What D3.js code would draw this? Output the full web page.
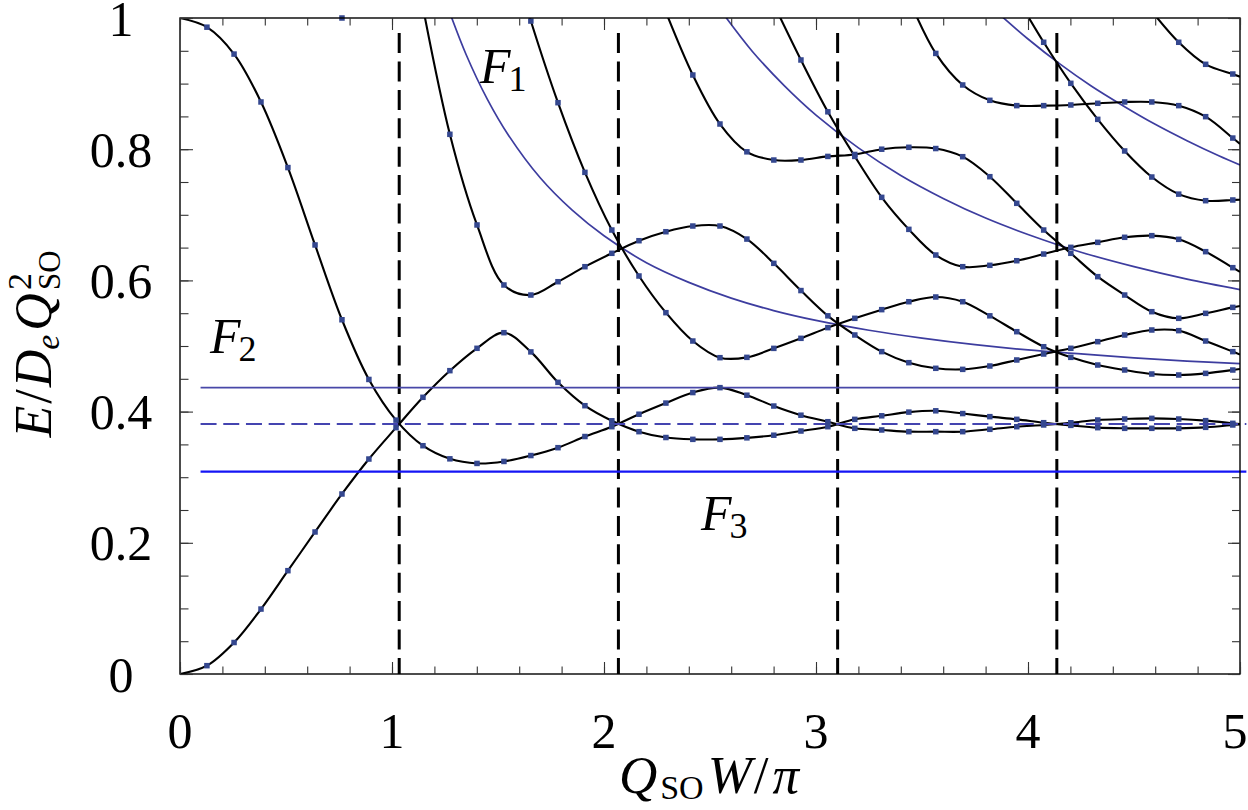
<!DOCTYPE html>
<html><head><meta charset="utf-8">
<script src="https://cdn.jsdelivr.net/npm/d3@7"></script>
<style>
body{margin:0;background:#fff}
svg{display:block}
text{font-family:"Liberation Serif","Times New Roman",serif;fill:#000}
</style>
</head><body>
<svg id="c" width="1248" height="810" font-family="Liberation Serif, serif"></svg>
<script>
// ---- data ----
const xGrid = [0.127,0.255,0.382,0.509,0.637,0.764,0.891,1.019,1.146,1.273,1.401,1.528,1.655,1.783,1.910,2.037,2.165,2.292,2.419,2.547,2.674,2.801,2.929,3.056,3.183,3.310,3.438,3.565,3.692,3.820,3.947,4.074,4.202,4.329,4.456,4.584,4.711,4.838,4.966];
const N = null;
const bandA = [0.986,0.945,0.872,0.772,0.654,0.540,0.449,0.387,0.348,0.328,0.321,0.324,0.333,0.345,0.362,0.377,0.396,0.413,0.429,0.4365,0.425,0.4085,0.3945,0.3846,0.3745,0.372,0.3694,0.3694,0.3694,0.373,0.377,0.3796,0.383,0.3872,0.3887,0.3897,0.3887,0.3862,0.3821];
const bandB = [0.0127,0.048,0.099,0.1575,0.2165,0.2744,0.3277,0.3755,0.4218,0.4624,0.4965,0.5203,0.491,0.4446,0.409,0.386,0.3694,0.3605,0.3577,0.3577,0.36,0.364,0.3704,0.377,0.3882,0.3936,0.3992,0.4012,0.397,0.3923,0.3882,0.3831,0.379,0.3755,0.3745,0.3745,0.3745,0.376,0.3796];
const bandC = [N,N,N,N,N,N,N,N,N,0.8227,0.6845,0.593,0.5777,0.598,0.6209,0.6413,0.6605,0.6742,0.6829,0.6829,0.663,0.626,0.5845,0.546,0.5168,0.4914,0.4746,0.466,0.4644,0.4695,0.4787,0.4878,0.4965,0.5066,0.5168,0.5244,0.5234,0.5076,0.4914];
const bandD = [N,N,N,N,N,N,N,N,N,N,N,N,0.9954,0.8709,0.7647,0.6768,0.6067,0.5508,0.5076,0.4822,0.4827,0.4964,0.5117,0.528,0.5422,0.5554,0.5675,0.5747,0.5675,0.546,0.5218,0.4989,0.4827,0.471,0.4634,0.4573,0.4558,0.4583,0.4634];
const bandE = [N,N,N,N,N,N,N,N,N,N,N,N,N,N,N,N,N,N,0.9131,0.8384,0.796,0.7835,0.7835,0.789,0.792,0.8,0.8029,0.801,0.7886,0.7581,0.7175,0.6768,0.6413,0.6057,0.5777,0.5523,0.5422,0.5498,0.5589];
const bandF = [N,N,N,N,N,N,N,N,N,N,N,N,N,N,N,N,N,N,N,N,N,N,0.936,0.857,0.789,0.7266,0.6778,0.6387,0.6209,0.623,0.63,0.6402,0.6504,0.658,0.6657,0.6682,0.6626,0.6438,0.6194];
const bandG = [N,N,N,N,N,N,N,N,N,N,N,N,N,N,N,N,N,N,N,N,N,N,N,N,N,N,N,0.946,0.8979,0.8745,0.8664,0.8664,0.8674,0.87,0.872,0.872,0.8664,0.8496,0.817];
const bandH = [N,N,N,N,N,N,N,N,N,N,N,N,N,N,N,N,N,N,N,N,N,N,N,N,N,N,N,N,N,N,N,0.963,0.9004,0.8455,0.7973,0.7576,0.7315,0.7215,0.7226];
const bandI = [N,N,N,N,N,N,N,N,N,N,N,N,N,N,N,N,N,N,N,N,N,N,N,N,N,N,N,N,N,N,N,N,N,N,N,N,0.963,0.9294,0.9146];
// where each black line leaves the frame (line only, no marker)
const bandAEnds = [[0,1.0],[5.0,0.381]];
const bandBEnds = [[0,0],[5.0,0.3806]];
const bandCEnds = [[1.12,1.06],[5.0,0.487]];
const bandDEnds = [[1.60,1.055],[5.0,0.465]];
const bandEEnds = [[2.26,1.035],[5.0,0.561]];
const bandFEnds = [[2.78,1.035],[5.0,0.613]];
const bandGEnds = [[3.43,1.035],[5.0,0.808]];
const bandHEnds = [[3.95,1.03],[5.0,0.723]];
const bandIEnds = [[4.56,1.02],[5.0,0.9106]];
const loneMarkers = [[0.764,1.0]];
// F1 curves (blue)
const f1a = [[1.25,1.028],[1.35,0.944],[1.45,0.876],[1.55,0.821],[1.7,0.756],[1.85,0.707],[2.0,0.668],[2.2,0.627],[2.4,0.597],[2.6,0.573],[2.8,0.554],[3.0,0.539],[3.25,0.524],[3.5,0.512],[3.75,0.502],[4.0,0.494],[4.25,0.488],[4.5,0.482],[4.75,0.477],[5.0,0.473]];
const f1b = [[2.55,1.012],[2.7,0.949],[2.85,0.897],[3.0,0.852],[3.2,0.802],[3.4,0.760],[3.6,0.725],[3.8,0.695],[4.0,0.670],[4.25,0.643],[4.5,0.621],[4.75,0.602],[5.0,0.586]];
const f1c = [[3.85,1.010],[4.0,0.968],[4.15,0.930],[4.3,0.896],[4.45,0.866],[4.6,0.838],[4.75,0.813],[4.9,0.790],[5.0,0.776]];
const f2Level = 0.4365;
const f3Level = 0.3084;
const midLevel = 0.381;
const levelStart = 0.097;
const crossX = [1.034, 2.068, 3.102, 4.136];
const crossTop = 0.977;
const xTicksMajor = [0,1,2,3,4,5];
const xTickLabels = ["0","1","2","3","4","5"];
const yTicksMajor = [0,0.2,0.4,0.6,0.8,1];
const yTickLabels = ["0","0.2","0.4","0.6","0.8","1"];
const xTicksMinor = d3.range(0, 5.001, 0.2);
const yTicksMinor = d3.range(0, 1.001, 0.05);

// ---- drawing ----
const FONT = "Liberation Serif, serif";
const svg = d3.select("#c");
const x = d3.scaleLinear().domain([0,5]).range([180,1240]);
const y = d3.scaleLinear().domain([0,1]).range([674,18]);

svg.append("defs").append("clipPath").attr("id","clip")
  .append("rect").attr("x",180).attr("y",18).attr("width",1060).attr("height",656);

const plot = svg.append("g");
const clipped = plot.append("g").attr("clip-path","url(#clip)");

// vertical dashed lines
plot.selectAll(".vd").data(crossX).join("line")
  .attr("x1", d=>x(d)).attr("x2", d=>x(d))
  .attr("y1", y(crossTop)).attr("y2", y(0))
  .attr("stroke","#000").attr("stroke-width",3).attr("stroke-dasharray","20,8.4");

// horizontal levels
plot.append("line").attr("x1",x(levelStart)).attr("x2",x(5.03)).attr("y1",y(f3Level)).attr("y2",y(f3Level))
  .attr("stroke","#1414f5").attr("stroke-width",2.2);
plot.append("line").attr("x1",x(levelStart)).attr("x2",x(5)).attr("y1",y(f2Level)).attr("y2",y(f2Level))
  .attr("stroke","#4848a8").attr("stroke-width",1.6);
plot.append("line").attr("x1",x(levelStart)).attr("x2",x(5.03)).attr("y1",y(midLevel)).attr("y2",y(midLevel))
  .attr("stroke","#4444b0").attr("stroke-width",2).attr("stroke-dasharray","16,6.7");

const line = d3.line().x(d=>x(d[0])).y(d=>y(d[1])).curve(d3.curveCatmullRom.alpha(0.5));

// blue F1 curves
clipped.selectAll(".f1").data([f1a,f1b,f1c]).join("path")
  .attr("d", line).attr("fill","none").attr("stroke","#3d3d9f").attr("stroke-width",1.7);

// black bands
const bands = [[bandA,bandAEnds],[bandB,bandBEnds],[bandC,bandCEnds],[bandD,bandDEnds],[bandE,bandEEnds],[bandF,bandFEnds],[bandG,bandGEnds],[bandH,bandHEnds],[bandI,bandIEnds]];
const bandPts = bands.map(([b]) => xGrid.map((xv,i)=>[xv,b[i]]).filter(d=>d[1]!==null));
clipped.selectAll(".band").data(bands.map(([b,e],i)=>[e[0],...bandPts[i],e[1]])).join("path")
  .attr("d", line).attr("fill","none").attr("stroke","#000").attr("stroke-width",2.1);

// markers
const markers = bandPts.flat().filter(d=>d[1]<=1.0).concat(loneMarkers);
plot.selectAll(".mk").data(markers).join("rect")
  .attr("x", d=>x(d[0])-2.75).attr("y", d=>y(d[1])-2.75).attr("width",5.5).attr("height",5.5)
  .attr("fill","#34478f");

// frame
svg.append("rect").attr("x",180).attr("y",18).attr("width",1060).attr("height",656)
  .attr("fill","none").attr("stroke","#000").attr("stroke-width",1.4);

// ticks
function tickAxis(axis, tf, vals, size){
  const g = svg.append("g").attr("transform",tf).call(axis.tickValues(vals).tickSize(size).tickFormat(""));
  g.select(".domain").remove();
  g.selectAll("line").attr("stroke","#333").attr("stroke-width",1.1);
  return g;
}
tickAxis(d3.axisBottom(x), `translate(0,${y(0)})`, xTicksMinor, -7.5);
tickAxis(d3.axisBottom(x), `translate(0,${y(0)})`, xTicksMajor, -12);
tickAxis(d3.axisTop(x), `translate(0,${y(1)})`, xTicksMinor, -7.5);
tickAxis(d3.axisTop(x), `translate(0,${y(1)})`, xTicksMajor, -12);
tickAxis(d3.axisLeft(y), `translate(${x(0)},0)`, yTicksMinor, -8.5);
tickAxis(d3.axisLeft(y), `translate(${x(0)},0)`, yTicksMajor, -13);
tickAxis(d3.axisRight(y), `translate(${x(5)},0)`, yTicksMinor, -8);
tickAxis(d3.axisRight(y), `translate(${x(5)},0)`, yTicksMajor, -12);

// tick labels
svg.append("g").selectAll("text").data(xTicksMajor).join("text")
  .attr("x", d=> d===5 ? x(d)-5 : x(d)).attr("y", 748).attr("text-anchor","middle")
  .attr("font-family",FONT).attr("font-size",50)
  .text((d,i)=>xTickLabels[i]);
svg.append("g").selectAll("text").data(yTicksMajor).join("text")
  .attr("x", 121).attr("y", d=>y(d)+17.5).attr("text-anchor","middle")
  .attr("font-family",FONT).attr("font-size",50)
  .text((d,i)=>yTickLabels[i]);

// axis titles
const xt = svg.append("text").attr("x",709).attr("y",793).attr("text-anchor","middle")
  .attr("font-family",FONT).attr("font-size",53);
xt.append("tspan").attr("font-style","italic").text("Q");
xt.append("tspan").attr("font-size",34).attr("dy",6).attr("dx",3).text("SO");
xt.append("tspan").attr("font-style","italic").attr("dy",-6).attr("dx",4).text("W");
xt.append("tspan").attr("dx",2).text("/");
xt.append("tspan").attr("font-style","italic").attr("dx",4).text("π");

const yt = svg.append("text").attr("transform","translate(51,344) rotate(-90)").attr("text-anchor","middle")
  .attr("font-family",FONT).attr("font-size",52);
yt.append("tspan").attr("font-style","italic").text("E");
yt.append("tspan").attr("dx",2).text("/");
yt.append("tspan").attr("font-style","italic").attr("dx",2).text("D");
yt.append("tspan").attr("font-style","italic").attr("font-size",34).attr("dy",8).text("e");
yt.append("tspan").attr("font-style","italic").attr("dy",-8).attr("dx",4).text("Q");
yt.append("tspan").attr("font-size",34).attr("dy",-20).attr("dx",3).text("2");
yt.append("tspan").attr("font-size",31).attr("dy",29).attr("dx",-17).text("SO");

// annotations
function flabel(px, py, sub){
  const t = svg.append("text").attr("x",px).attr("y",py).attr("font-family",FONT).attr("font-size",50);
  t.append("tspan").attr("font-style","italic").text("F");
  t.append("tspan").attr("font-size",36).attr("dy",8).attr("dx",-2).text(sub);
}
flabel(480, 83, "1");
flabel(210, 353, "2");
flabel(701, 530, "3");
</script>
</body></html>
